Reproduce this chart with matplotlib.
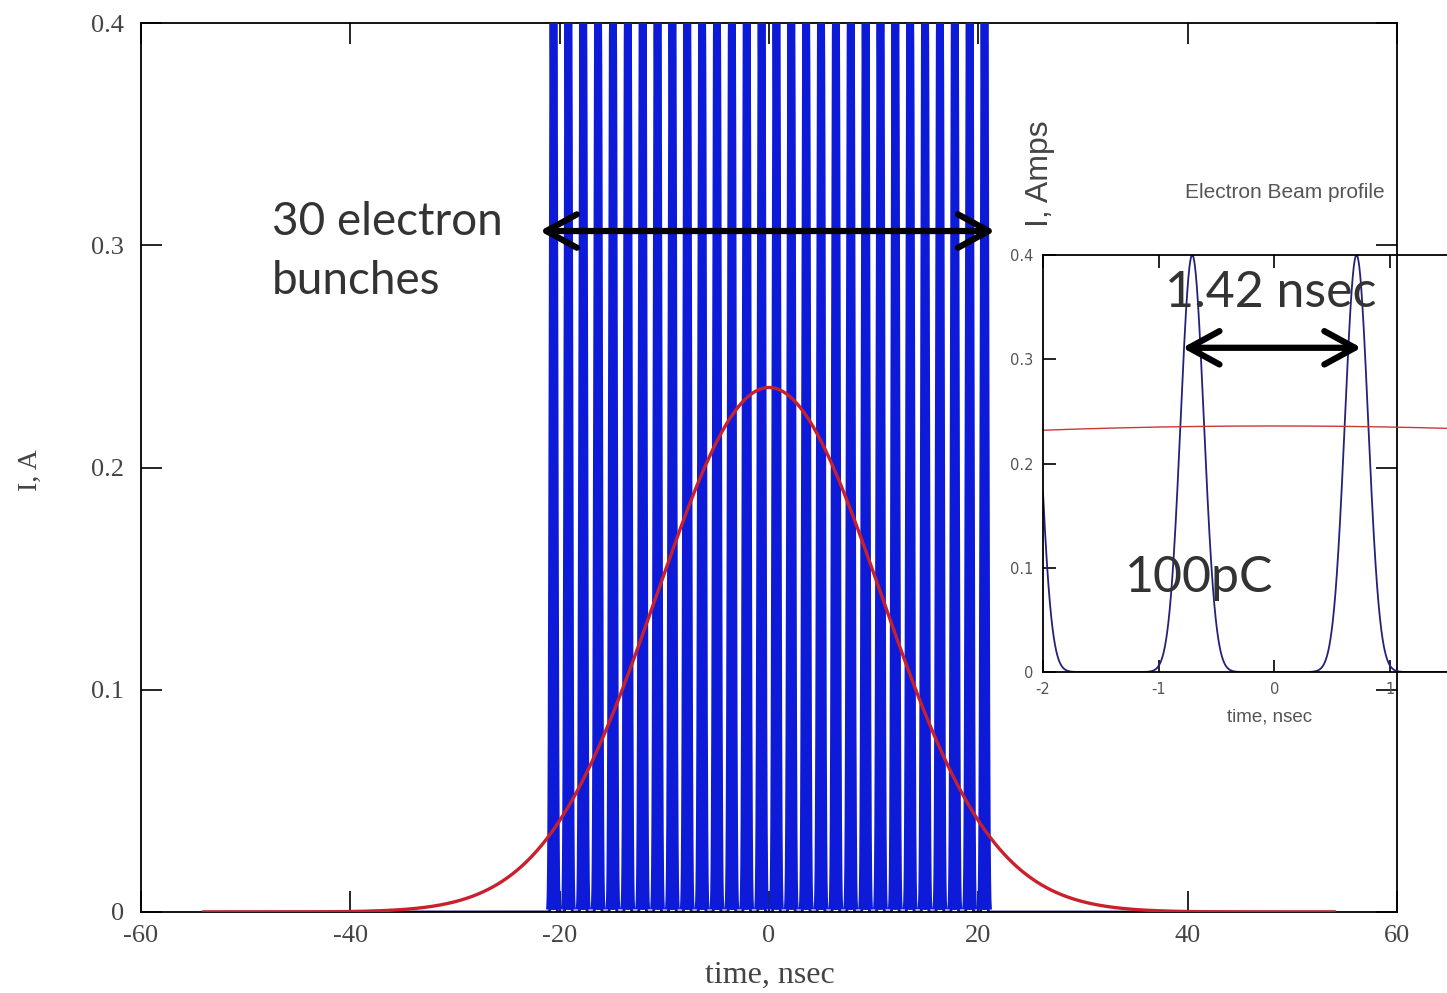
import numpy as np
import matplotlib.pyplot as plt

plt.rcParams['axes.unicode_minus'] = False

# bunch train, values
bunch_centers = [-20.59, -19.17, -17.75, -16.33, -14.91, -13.49, -12.07, -10.65,
                 -9.23, -7.81, -6.39, -4.97, -3.55, -2.13, -0.71, 0.71, 2.13,
                 3.55, 4.97, 6.39, 7.81, 9.23, 10.65, 12.07, 13.49, 14.91,
                 16.33, 17.75, 19.17, 20.59]
bunch_peak = 0.4      # A
bunch_sigma = 0.1     # ns

# red envelope (gaussian fit of the picture)
env_peak = 0.236
env_sigma = 10.7
t_range = (-54, 54)

main_xticks = [-60, -40, -20, 0, 20, 40, 60]
main_yticks = [0, 0.1, 0.2, 0.3, 0.4]
inset_xticks = [-2, -1, 0, 1]
inset_yticks = [0, 0.1, 0.2, 0.3, 0.4]

W, H = 1447, 993


def bunch_current(t):
    i = np.zeros_like(t)
    for c in bunch_centers:
        i += bunch_peak * np.exp(-(t - c) ** 2 / (2 * bunch_sigma ** 2))
    return i


def envelope(t):
    return env_peak * np.exp(-t ** 2 / (2 * env_sigma ** 2))


t = np.linspace(t_range[0], t_range[1], 60001)
i_b = bunch_current(t)
i_env = envelope(t)

fig = plt.figure(figsize=(W / 100, H / 100), dpi=100)
ax = fig.add_axes([141 / W, 81 / H, 1256 / W, 889 / H])

# main plot
ax.plot(t, i_b, color='#1a1a70', lw=2.0, zorder=2)
thick = np.where(i_b > 0.001, i_b, np.nan)
ax.plot(t, thick, color='#0d1ad8', lw=5.6, zorder=3, solid_capstyle='butt')
ax.plot(t, i_env, color='#c8202c', lw=2.4, zorder=5)

ax.set_xlim(-60, 60)
ax.set_ylim(0, 0.4)
ax.set_xticks(main_xticks)
ax.set_yticks(main_yticks)
ax.set_yticklabels(['0', '0.1', '0.2', '0.3', '0.4'])
ax.tick_params(direction='in', length=15, width=1.2, top=True, right=True,
               labelsize=19, labelcolor='#444444')
ax.tick_params(axis='x', pad=9)
ax.tick_params(axis='y', pad=12)
for lab in ax.get_xticklabels() + ax.get_yticklabels():
    lab.set_family('Liberation Serif')
for s in ax.spines.values():
    s.set_linewidth(1.3)

fig.text(30 / W, 1 - 470 / H, 'I, A', rotation=90, ha='center', va='center',
         fontsize=20, family='Liberation Serif', color='#444444')
fig.text(770 / W, 1 - 975 / H, 'time, nsec', ha='center', va='center',
         fontsize=23, family='Liberation Serif', color='#444444')

ax.text(-47.5, 0.297, '30 electron\nbunches', ha='left', va='center',
        fontsize=33, family='Lato', color='#333333', linespacing=1.5, zorder=6)
ax.annotate('', xy=(21.6, 0.3064), xytext=(-21.9, 0.3064),
            arrowprops=dict(arrowstyle='<->,head_length=0.55,head_width=0.3',
                            lw=4.5, color='black', mutation_scale=40,
                            shrinkA=0, shrinkB=0), zorder=7)

# inset with a single bunch pair
ins = fig.add_axes([1043 / W, (H - 672) / H, 416.5 / W, 417 / H])
ins.patch.set_alpha(0)
ti = np.linspace(-2.3, 1.8, 4001)
ins.plot(ti, bunch_current(ti), color='#22227a', lw=1.3)
ins.plot(ti, envelope(ti), color='#c83a3a', lw=1.0)
ins.set_xlim(-2, 1.6)
ins.set_ylim(0, 0.4)
ins.set_xticks(inset_xticks)
ins.set_yticks(inset_yticks)
ins.set_yticklabels(['0', '0.1', '0.2', '0.3', '0.4'])
ins.tick_params(direction='in', length=9, width=1.2, top=True, labelsize=10.5,
                labelcolor='#555555', pad=7)
for s in ins.spines.values():
    s.set_linewidth(1.3)
ins.spines['right'].set_visible(False)

fig.text(1270 / W, 1 - 717 / H, 'time, nsec', ha='center', va='center',
         fontsize=13.5, family='Liberation Sans', color='#555555')
fig.text(1040 / W, 1 - 174 / H, 'I, Amps', rotation=90, ha='center',
         va='center', fontsize=23, family='Liberation Sans', color='#444444')
fig.text(1285 / W, 1 - 193 / H, 'Electron Beam profile', ha='center',
         va='center', fontsize=15, family='Liberation Sans', color='#555555')

ins.text(-0.03, 0.364, '1.42 nsec', ha='center', va='center', fontsize=36,
         family='Lato', color='#333333')
ins.text(-0.65, 0.09, '100pC', ha='center', va='center', fontsize=36,
         family='Lato', color='#333333')
ins.annotate('', xy=(0.752, 0.311), xytext=(-0.795, 0.311),
             arrowprops=dict(arrowstyle='<->,head_length=0.55,head_width=0.3',
                             lw=4.5, color='black', mutation_scale=40,
                             shrinkA=0, shrinkB=0))

fig.savefig('out.png', dpi=100)
